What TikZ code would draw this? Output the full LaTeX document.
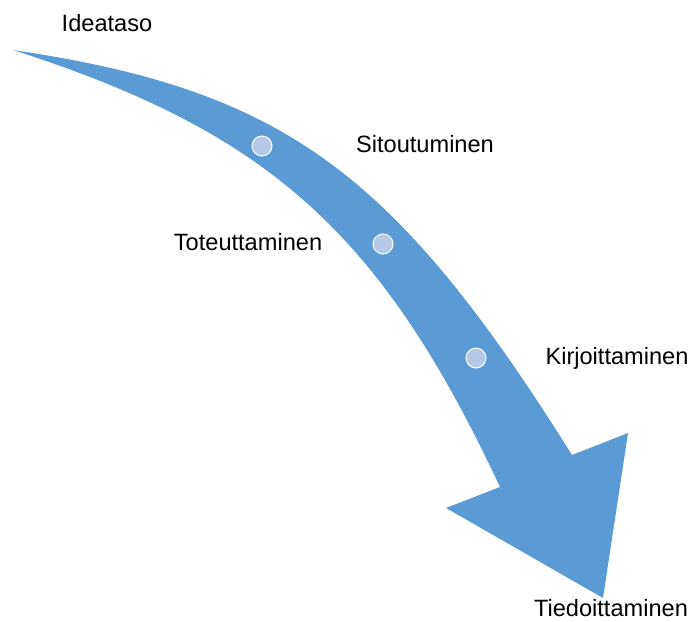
\documentclass[tikz,border=0pt]{standalone}
\usepackage{fontspec}
\setmainfont{Liberation Sans}
\usepackage{xcolor}
\usepackage{tikz}
\usetikzlibrary{positioning,calc}

\definecolor{arrowblue}{HTML}{5B9BD5}
\definecolor{dotblue}{HTML}{B4C8E8}

\begin{document}
\begin{tikzpicture}[x=1pt, y=-1pt,
    stage/.style={font=\fontsize{23.6}{28}\selectfont, inner sep=0pt},
    dot/.style={circle, fill=dotblue, draw=white, line width=1pt, minimum size=20pt, inner sep=0pt}]
  \useasboundingbox (0,0) rectangle (693,621);

  % Curved arrow: upper edge, head, lower edge
  \fill[arrowblue] (13,50) .. controls (283,90) and (394,171) .. (572,455)
    -- (628,433) -- (603,598) -- (446,508) -- (500,487)
    .. controls (381,233) and (269,132) .. (13,50) -- cycle;

  % Milestones on the arrow
  \node[dot] (d1) at (262,146) {};
  \node[dot] (d2) at (383,244) {};
  \node[dot] (d3) at (476,358) {};

  % Stage labels
  \node[stage] (ideataso) at (107,23) {Ideataso};
  \node[stage] (sitoutuminen) at (425,144) {Sitoutuminen};
  \node[stage] (toteuttaminen) at (248,242) {Toteuttaminen};
  \node[stage] (kirjoittaminen) at (617,358) {Kirjoittaminen};
  \node[stage] (tiedoittaminen) at (611,608) {Tiedoittaminen};
\end{tikzpicture}
\end{document}
